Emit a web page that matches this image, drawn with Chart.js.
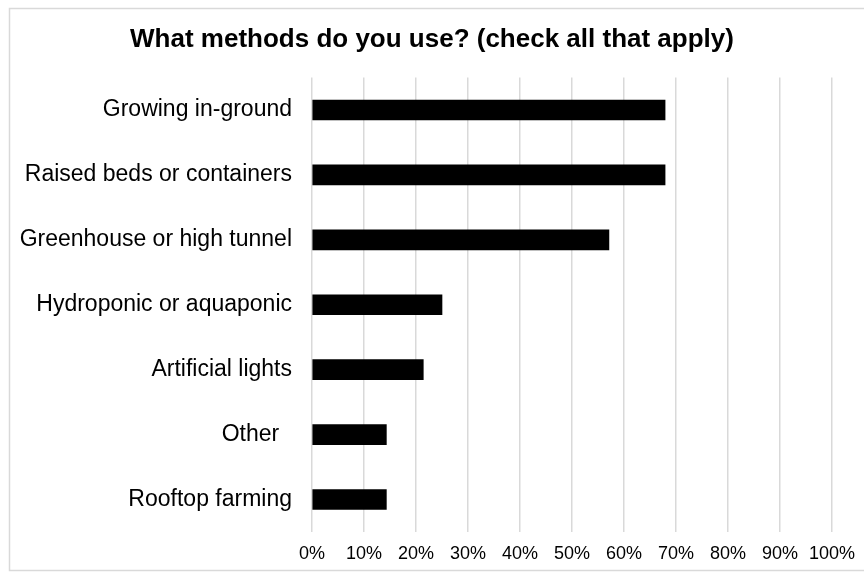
<!DOCTYPE html>
<html>
<head>
<meta charset="utf-8">
<title>What methods do you use?</title>
<script src="https://cdn.jsdelivr.net/npm/chart.js@4.4.1/dist/chart.umd.min.js"></script>
<style>
  html, body { margin: 0; padding: 0; background: #fff; }
  #wrap { position: relative; width: 864px; height: 573px; }
</style>
</head>
<body>
<div id="wrap"><canvas id="methods-chart"></canvas></div>
<script>
// ------------------------------------------------------------
// Survey: growing methods (share of respondents, %)
// ------------------------------------------------------------
const methods = [
  'Growing in-ground',
  'Raised beds or containers',
  'Greenhouse or high tunnel',
  'Hydroponic or aquaponic',
  'Artificial lights',
  'Other  ',
  'Rooftop farming'
];
const shares = [67.9, 67.9, 57.1, 25.0, 21.4, 14.3, 14.3];
const pctTicks = [0, 10, 20, 30, 40, 50, 60, 70, 80, 90, 100];

const FONT = '"Liberation Sans", Arial, Helvetica, sans-serif';

// light grey frame around the whole chart
const chartFrame = {
  id: 'chartFrame',
  beforeDraw(chart) {
    const ctx = chart.ctx;
    ctx.save();
    ctx.strokeStyle = '#d9d9d9';
    ctx.lineWidth = 1.5;
    ctx.strokeRect(9.5, 8.5, chart.width + 20, 562);
    ctx.restore();
  }
};

new Chart(document.getElementById('methods-chart'), {
  type: 'bar',
  data: {
    labels: methods,
    datasets: [{
      data: shares,
      backgroundColor: '#000000',
      borderWidth: 0,
      barThickness: 20
    }]
  },
  options: {
    indexAxis: 'y',
    responsive: true,
    maintainAspectRatio: false,
    animation: false,
    layout: { padding: 0 },
    plugins: {
      legend: { display: false },
      tooltip: { enabled: false },
      title: {
        display: true,
        text: 'What methods do you use? (check all that apply)',
        color: '#000',
        font: { family: FONT, size: 26, weight: 'bold', lineHeight: 1.2 },
        padding: { top: 24, bottom: 22.3 }
      }
    },
    scales: {
      x: {
        min: 0,
        max: 100,
        afterBuildTicks: (scale) => { scale.ticks = pctTicks.map(v => ({ value: v })); },
        // reserve room on the right so the title stays centred on the full width
        afterFit: (scale) => { scale.height = 41; scale.paddingRight = 32; },
        grid: { color: '#d9d9d9', lineWidth: 1.5, drawTicks: false },
        border: { display: false },
        ticks: {
          color: '#000',
          padding: 11,
          maxRotation: 0,
          minRotation: 0,
          autoSkip: false,
          font: { family: FONT, size: 18 },
          callback: (v) => v + '%'
        }
      },
      y: {
        afterFit: (scale) => { scale.width = 312; },
        grid: { display: false, drawTicks: false },
        border: { display: false },
        ticks: {
          color: '#000',
          padding: 20,
          font: { family: FONT, size: 23 }
        }
      }
    }
  },
  plugins: [chartFrame]
});
</script>
</body>
</html>
